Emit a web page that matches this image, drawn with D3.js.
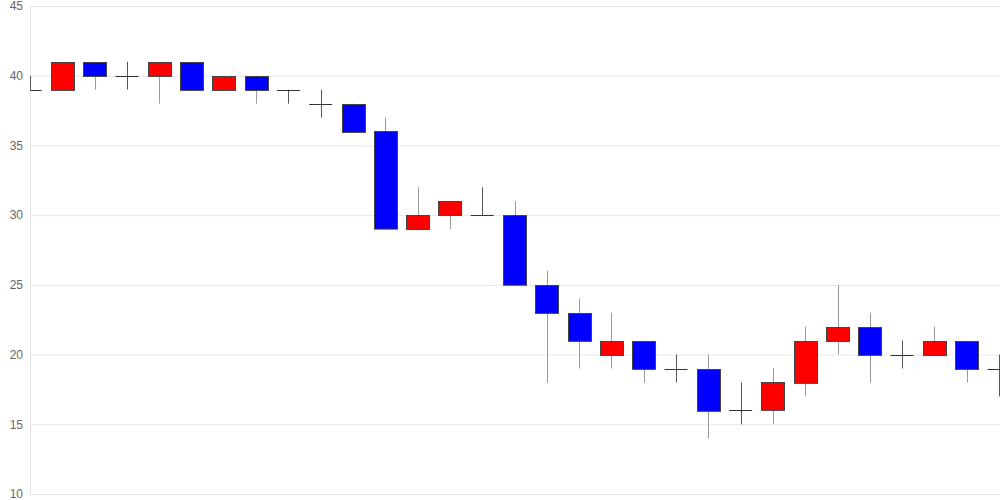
<!DOCTYPE html>
<html>
<head>
<meta charset="utf-8">
<script src="https://cdn.jsdelivr.net/npm/d3@7"></script>
<style>
  body { margin: 0; background: #fff; }
  svg { display: block; font-family: "Liberation Sans", Arial, sans-serif; }
</style>
</head>
<body>
<div id="chart"></div>
<script>
// daily candles, oldest first
var opens  = [39, 39, 41, 40, 40, 41, 39, 40, 39, 38, 38, 36, 29, 30, 30, 30, 25, 23, 20, 21, 19, 19, 16, 16, 18, 21, 22, 20, 20, 21, 19];
var closes = [39, 41, 40, 40, 41, 39, 40, 39, 39, 38, 36, 29, 30, 31, 30, 25, 23, 21, 21, 19, 19, 16, 16, 18, 21, 22, 20, 20, 21, 19, 19];
var highs  = [40, 41, 41, 41, 41, 41, 40, 40, 39, 39, 38, 37, 32, 31, 32, 31, 26, 24, 23, 21, 20, 20, 18, 19, 22, 25, 23, 21, 22, 21, 20];
var lows   = [39, 39, 39, 39, 38, 39, 39, 38, 38, 37, 36, 29, 29, 29, 30, 25, 18, 19, 19, 18, 18, 14, 15, 15, 17, 20, 18, 19, 20, 18, 17];
var yTicks = [10, 15, 20, 25, 30, 35, 40, 45];

var width = 1000, height = 500;
var margin = { left: 30, top: 6, right: 0, bottom: 6 };

var data = opens.map(function(o, i) {
    return { i: i, open: o, close: closes[i], high: highs[i], low: lows[i] };
});

var svg = d3.select("#chart").append("svg")
    .attr("width", width)
    .attr("height", height);

var x = d3.scalePoint()
    .domain(data.map(function(d) { return d.i; }))
    .range([margin.left, width - margin.right - 1]);

var y = d3.scaleLinear()
    .domain([10, 45])
    .range([height - margin.bottom, margin.top]);

var step = x.step();
var bodyW = Math.round(step * 0.71);

// grid + labels
var yAxis = d3.axisLeft(y)
    .tickValues(yTicks)
    .tickSize(-(width - margin.left - margin.right))
    .tickPadding(7)
    .tickFormat(d3.format("d"));

var yAxisG = svg.append("g")
    .attr("transform", "translate(" + margin.left + ",0)")
    .call(yAxis);
yAxisG.select(".domain").remove();
yAxisG.selectAll(".tick line").attr("stroke", "#e6e6e6");
yAxisG.selectAll(".tick text").attr("fill", "#666").attr("font-size", 12);

svg.append("line")
    .attr("x1", margin.left + 0.5).attr("x2", margin.left + 0.5)
    .attr("y1", margin.top).attr("y2", height - margin.bottom)
    .attr("stroke", "#e6e6e6");

svg.append("clipPath").attr("id", "plot-clip")
  .append("rect")
    .attr("x", margin.left)
    .attr("y", 0)
    .attr("width", width - margin.left)
    .attr("height", height);

var candles = svg.append("g")
    .attr("clip-path", "url(#plot-clip)")
  .selectAll("g")
  .data(data)
  .enter().append("g");

// wicks
candles.append("line")
    .attr("x1", function(d) { return Math.round(x(d.i)) + 0.5; })
    .attr("x2", function(d) { return Math.round(x(d.i)) + 0.5; })
    .attr("y1", function(d) { return y(d.high); })
    .attr("y2", function(d) { return y(d.low); })
    .attr("stroke", function(d) { return d.open === d.close ? "#555" : "#999"; })
    .attr("stroke-width", 1);

// bodies
candles.filter(function(d) { return d.open !== d.close; })
  .append("rect")
    .attr("x", function(d) { return Math.round(x(d.i) - bodyW / 2) + 0.5; })
    .attr("y", function(d) { return Math.round(y(Math.max(d.open, d.close))) + 0.5; })
    .attr("width", bodyW)
    .attr("height", function(d) { return Math.abs(y(d.open) - y(d.close)); })
    .attr("fill", function(d) { return d.close > d.open ? "#ff0000" : "#0000ff"; })
    .attr("stroke", "#444")
    .attr("stroke-width", 1);

// doji bars
candles.filter(function(d) { return d.open === d.close; })
  .append("line")
    .attr("x1", function(d) { return x(d.i) - bodyW / 2; })
    .attr("x2", function(d) { return x(d.i) + bodyW / 2; })
    .attr("y1", function(d) { return Math.round(y(d.open)) + 0.5; })
    .attr("y2", function(d) { return Math.round(y(d.open)) + 0.5; })
    .attr("stroke", "#333")
    .attr("stroke-width", 1);
</script>
</body>
</html>
